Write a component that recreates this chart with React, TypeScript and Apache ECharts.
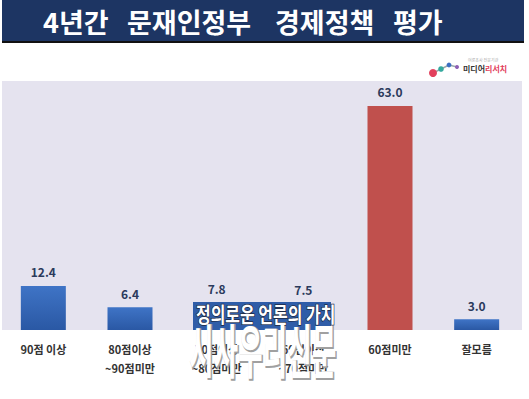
import React, { useEffect, useRef } from "react";
import * as echarts from "echarts";

const categories = ["90점 이상", "80점이상\n~90점미만", "70점이상\n~80점미만", "60점이상\n~70점미만", "60점미만", "잘모름"];
const values = [12.4, 6.4, 7.8, 7.5, 63.0, 3.0];
const highlightIndex = 4;
const titleWords = [
  { text: "4년간", x: 43 },
  { text: "문재인정부", x: 127 },
  { text: "경제정책", x: 275 },
  { text: "평가", x: 393 },
];

const FONT = "'Noto Sans CJK KR', 'Noto Sans', sans-serif";

export default function App() {
  const ref = useRef<HTMLDivElement>(null);
  useEffect(() => {
    if (!ref.current) return;
    const chart = echarts.init(ref.current, null, { renderer: "svg" });
    const blue = new echarts.graphic.LinearGradient(0, 0, 0, 1, [
      { offset: 0, color: "#3f74c6" },
      { offset: 1, color: "#2a58a4" },
    ]);
    chart.setOption({
      animation: false,
      backgroundColor: "#ffffff",
      textStyle: { fontFamily: FONT },
      grid: { left: -4, right: 9, top: 81, bottom: 69, containLabel: false },
      xAxis: {
        type: "category",
        data: categories,
        axisLine: { show: false },
        axisTick: { show: false },
        axisLabel: {
          color: "#333333",
          fontSize: 11,
          fontWeight: "bold",
          lineHeight: 19,
          margin: 9,
          fontFamily: FONT,
          interval: 0,
        },
      },
      yAxis: {
        type: "value",
        min: 0,
        max: 70,
        show: false,
        splitLine: { show: false },
      },
      graphic: [
        {
          type: "rect",
          z: -10,
          shape: { x: 2, y: 81, width: 520, height: 249 },
          style: { fill: "#e5e3ef" },
          silent: true,
        },
        {
          type: "rect",
          shape: { x: 2, y: 0, width: 522, height: 41 },
          style: { fill: "#1d3563" },
        },
        {
          type: "rect",
          shape: { x: 2, y: 41, width: 522, height: 2 },
          style: { fill: "#111111" },
        },
        ...titleWords.map((w) => ({
          type: "text",
          x: w.x,
          y: 21,
          style: {
            text: w.text,
            fill: "#ffffff",
            font: `bold 27px ${FONT}`,
            verticalAlign: "middle",
          },
        })),
        // logo
        { type: "line", shape: { x1: 433, y1: 73, x2: 441, y2: 69 }, style: { stroke: "#9aa", lineWidth: 1.5 } },
        { type: "line", shape: { x1: 441, y1: 69, x2: 449, y2: 65 }, style: { stroke: "#9aa", lineWidth: 1.5 } },
        { type: "line", shape: { x1: 449, y1: 65, x2: 457, y2: 67 }, style: { stroke: "#9aa", lineWidth: 1.5 } },
        { type: "circle", shape: { cx: 433, cy: 73, r: 4 }, style: { fill: "#e2405c" } },
        { type: "circle", shape: { cx: 441, cy: 69, r: 2.8 }, style: { fill: "#35a99e" } },
        { type: "circle", shape: { cx: 449, cy: 65, r: 2.4 }, style: { fill: "#3d6fc2" } },
        { type: "circle", shape: { cx: 457, cy: 67, r: 2 }, style: { fill: "#8e5fb5" } },
        {
          type: "text",
          x: 463,
          y: 68,
          style: {
            text: "{a|미디어}{b|리서치}",
            verticalAlign: "middle",
            rich: {
              a: { fontSize: 8, fontWeight: "bold", fill: "#333333", color: "#333333", fontFamily: FONT },
              b: { fontSize: 8, fontWeight: "bold", fill: "#e2405c", color: "#e2405c", fontFamily: FONT },
            },
          },
        },
        {
          type: "text",
          x: 468,
          y: 60,
          style: { text: "여론조사 전문기관", fill: "#aaaaaa", font: `4px ${FONT}`, verticalAlign: "middle" },
        },
        // watermark
        {
          type: "rect",
          z: 90,
          shape: { x: 193, y: 302, width: 138, height: 28 },
          style: { fill: "#2f5da8" },
        },
        {
          type: "text",
          z: 100,
          x: 196,
          y: 312,
          scaleX: 0.76,
          style: {
            text: "정의로운 언론의 가치",
            fill: "#ffffff",
            stroke: "#1e2a44",
            lineWidth: 1.5,
            font: `bold 21px ${FONT}`,
            verticalAlign: "middle",
          },
        },
        {
          type: "text",
          z: 99,
          x: 190,
          y: 349,
          scaleX: 0.46,
          style: {
            text: "시사우리신문",
            fill: "#a0a0a0",
            stroke: "#a0a0a0",
            lineWidth: 2,
            font: `bold 58px ${FONT}`,
            verticalAlign: "middle",
          },
        },
        {
          type: "text",
          z: 100,
          x: 189,
          y: 348,
          scaleX: 0.46,
          style: {
            text: "시사우리신문",
            fill: "#ffffff",
            font: `bold 58px ${FONT}`,
            verticalAlign: "middle",
          },
        },
      ],
      series: [
        {
          type: "bar",
          data: values.map((v, i) => ({
            value: v,
            itemStyle: { color: i === highlightIndex ? "#c0504d" : blue },
          })),
          barWidth: 45,
          label: {
            show: true,
            position: "top",
            distance: 8,
            color: "#2b3a5c",
            fontSize: 12,
            fontWeight: "bold",
            fontFamily: FONT,
            formatter: (p: any) => Number(p.value).toFixed(1),
          },
        },
      ],
    });
    return () => chart.dispose();
  }, []);
  return (
    <div
      ref={ref}
      style={{ position: "absolute", left: 0, top: 0, width: 529, height: 399 }}
    />
  );
}
